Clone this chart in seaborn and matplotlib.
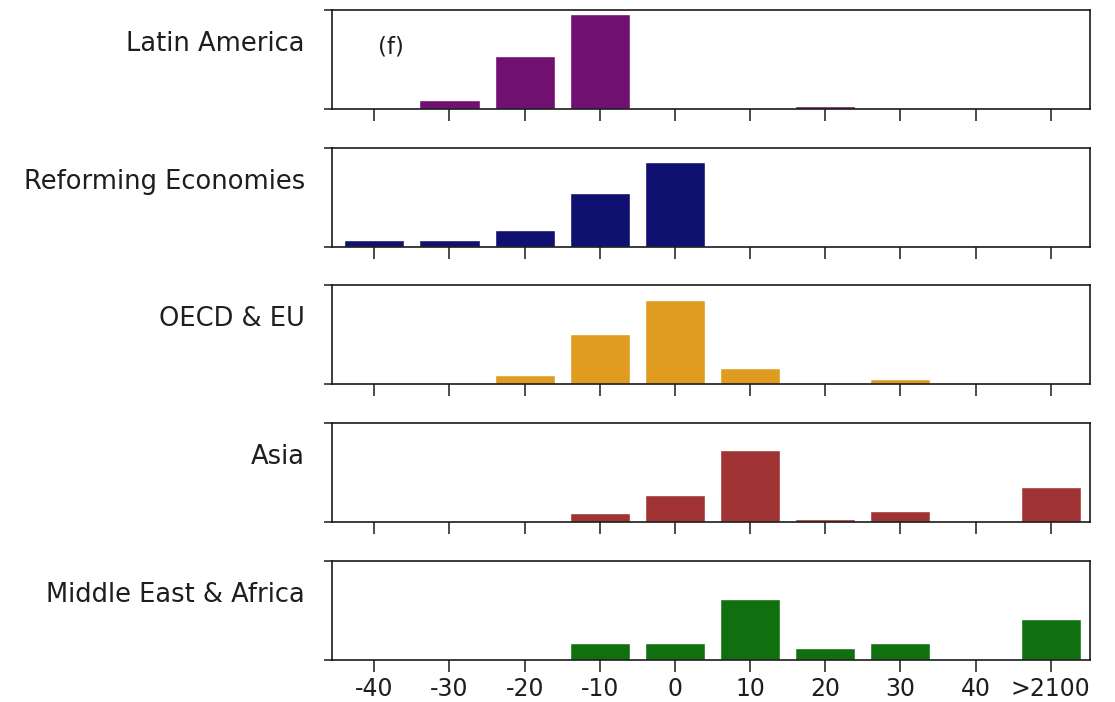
import matplotlib
matplotlib.use("Agg")
import matplotlib.pyplot as plt
import seaborn as sns

sns.set_style("ticks")
plt.rcParams["font.family"] = ["DejaVu Sans"]

# Warming bins (shared x categories)
categories = ["-40", "-30", "-20", "-10", "0", "10", "20", "30", "40", ">2100"]

regions = ["Latin America", "Reforming Economies", "OECD & EU", "Asia",
           "Middle East & Africa"]
region_colors = ["purple", "navy", "orange", "firebrick", "green"]

# Share of outcomes (%) per bin for each region
latin_america = [0.0, 5.6, 33.2, 59.6, 0.0, 0.0, 1.9, 0.0, 0.0, 0.0]
reforming_economies = [4.0, 4.0, 10.6, 33.3, 52.8, 0.0, 0.0, 0.0, 0.0, 0.0]
oecd_eu = [0.0, 0.0, 5.6, 31.4, 52.5, 10.4, 0.0, 3.1, 0.0, 0.0]
asia = [0.0, 0.0, 0.0, 5.5, 17.0, 45.1, 2.2, 7.2, 0.0, 22.1]
middle_east_africa = [0.0, 0.0, 0.0, 10.4, 10.4, 38.4, 7.3, 10.4, 0.0, 25.3]

series = [latin_america, reforming_economies, oecd_eu, asia, middle_east_africa]
y_top = 62

fig, axes = plt.subplots(5, 1, figsize=(11.15, 7.02), dpi=100, sharex=False)
fig.subplots_adjust(left=0.298, right=0.978, top=0.986, bottom=0.06, hspace=0.39)

for i, (ax, name, vals, col) in enumerate(zip(axes, regions, series, region_colors)):
    sns.barplot(x=categories, y=vals, color=col, ax=ax, width=0.8)
    ax.set_xlim(-0.56, 9.53)
    ax.set_ylim(0, y_top)
    ax.set_yticks([0, y_top])
    ax.set_yticklabels([])
    ax.set_ylabel(name, rotation=0, ha="right", va="center", fontsize=18.5,
                  color="#1e1e1e")
    ax.yaxis.set_label_coords(-0.036, 0.655)
    for side in ax.spines.values():
        side.set_color("#1a1a1a")
        side.set_linewidth(1.2)
    ax.tick_params(axis="x", length=8.4, width=1.1, color="#1a1a1a", pad=4,
                   labelsize=17, labelcolor="#1e1e1e")
    ax.tick_params(axis="y", length=5.8, width=1.1, color="#1a1a1a")
    if i < len(axes) - 1:
        ax.set_xticklabels([])

axes[0].text(0.077, 0.62, "(f)", transform=axes[0].transAxes,
             ha="center", va="center", fontsize=16.5, color="#1e1e1e")

fig.savefig("out.png", dpi=100)
